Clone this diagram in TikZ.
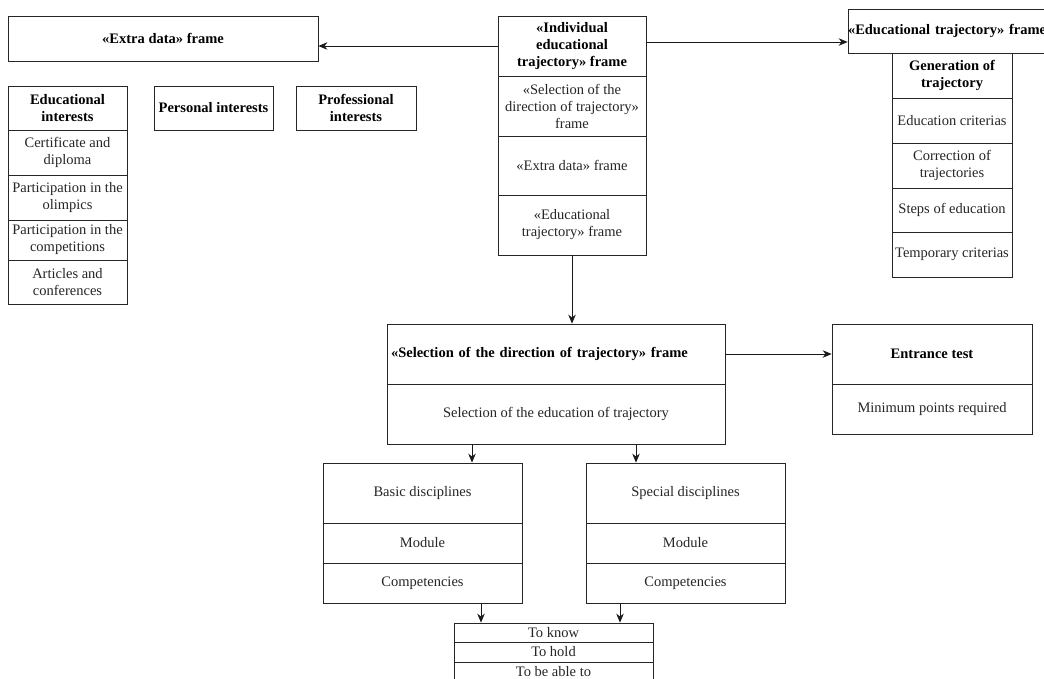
\documentclass[tikz,border=0pt]{standalone}
\usepackage{fontspec}
\setmainfont{Liberation Serif}
\usetikzlibrary{arrows.meta}
\newcommand\fs{\fontsize{14.5}{17}\selectfont}
\newcommand\cellnode[7]{\node[#1, minimum width={#5-#3}, minimum height={#6-#4}] (#2) at ({(#3+#5)/2},{(#4+#6)/2}) {#7};}
\tikzset{
  cell/.style={draw=black!85, line width=0.8pt, rectangle, inner sep=1pt, align=center, font=\fs, text=black!85},
  hcell/.style={cell, font=\fs\bfseries, text=black},
  arr/.style={-{Stealth[length=9pt,width=7.5pt]}, line width=0.8pt, draw=black!90},
}
\begin{document}
\begin{tikzpicture}[x=1pt,y=-1pt]
\useasboundingbox (0,0) rectangle (1044,678);
\clip (0,0) rectangle (1044,678);
\fill[white] (0,0) rectangle (1044,678);
% Extra data frame
\cellnode{hcell}{extra}{8}{16}{318}{61}{«Extra data» frame}
% Educational interests column
\cellnode{hcell}{ei0}{8}{86}{127}{130}{Educational\\interests}
\cellnode{cell}{ei1}{8}{130}{127}{175}{Certificate and\\diploma}
\cellnode{cell}{ei2}{8}{175}{127}{220}{Participation in the\\olimpics}
\cellnode{cell}{ei3}{8}{220}{127}{260}{Participation in the\\competitions}
\cellnode{cell}{ei4}{8}{260}{127}{304}{Articles and\\conferences}
\cellnode{hcell}{pers}{154}{86}{273}{130}{Personal interests}
\cellnode{hcell}{prof}{296}{86}{416}{130}{Professional\\interests}
% Individual educational trajectory column
\cellnode{hcell}{iet0}{498}{16}{646}{76}{«Individual\\educational\\trajectory» frame}
\cellnode{cell}{iet1}{498}{76}{646}{136}{«Selection of the\\direction of trajectory»\\frame}
\cellnode{cell}{iet2}{498}{136}{646}{195}{«Extra data» frame}
\cellnode{cell}{iet3}{498}{195}{646}{255}{«Educational\\trajectory» frame}
% Educational trajectory frame
\node[hcell, text width=222pt, align=left, inner xsep=0pt, minimum height=44pt] (etf) at (959,31) {«Educational trajectory» frame};
\cellnode{hcell}{gen0}{892}{53}{1012}{98}{Generation of\\trajectory}
\cellnode{cell}{gen1}{892}{98}{1012}{143}{Education criterias}
\cellnode{cell}{gen2}{892}{143}{1012}{188}{Correction of\\trajectories}
\cellnode{cell}{gen3}{892}{188}{1012}{232}{Steps of education}
\cellnode{cell}{gen4}{892}{232}{1012}{277}{Temporary criterias}
% Selection of direction
\node[hcell, text width=330pt, align=left, inner xsep=4pt, minimum height=60pt] (sel0) at (556,354) {«Selection of the direction of trajectory» frame};
\cellnode{cell}{sel1}{387}{384}{725}{444}{Selection of the education of trajectory}
% Entrance test
\cellnode{hcell}{ent0}{832}{324}{1032}{384}{Entrance test}
\cellnode{cell}{ent1}{832}{384}{1032}{434}{Minimum points required}
% Basic disciplines
\cellnode{cell}{bas0}{323}{463}{522}{523}{Basic disciplines}
\cellnode{cell}{bas1}{323}{523}{522}{563}{Module}
\cellnode{cell}{bas2}{323}{563}{522}{603}{Competencies}
% Special disciplines
\cellnode{cell}{spe0}{586}{463}{785}{523}{Special disciplines}
\cellnode{cell}{spe1}{586}{523}{785}{563}{Module}
\cellnode{cell}{spe2}{586}{563}{785}{603}{Competencies}
% Bottom list
\cellnode{cell}{tk0}{454}{623}{653}{642}{To know}
\cellnode{cell}{tk1}{454}{642}{653}{662}{To hold}
\cellnode{cell}{tk2}{454}{662}{653}{682}{To be able to}
% Connectors
\draw[arr] (iet0.west) -- (iet0.west -| extra.east);
\draw[arr] ([yshift=4pt]iet0.east) -- ([yshift=4pt]iet0.east -| etf.west);
\draw[arr] (iet3.south) -- (iet3.south |- sel0.north);
\draw[arr] (sel0.east) -- (ent0.west);
\draw[arr] (472,0 |- sel1.south) -- (472,0 |- bas0.north);
\draw[arr] (636,0 |- sel1.south) -- (636,0 |- spe0.north);
\draw[arr] (481,0 |- bas2.south) -- (481,0 |- tk0.north);
\draw[arr] (620,0 |- spe2.south) -- (620,0 |- tk0.north);
\end{tikzpicture}
\end{document}
